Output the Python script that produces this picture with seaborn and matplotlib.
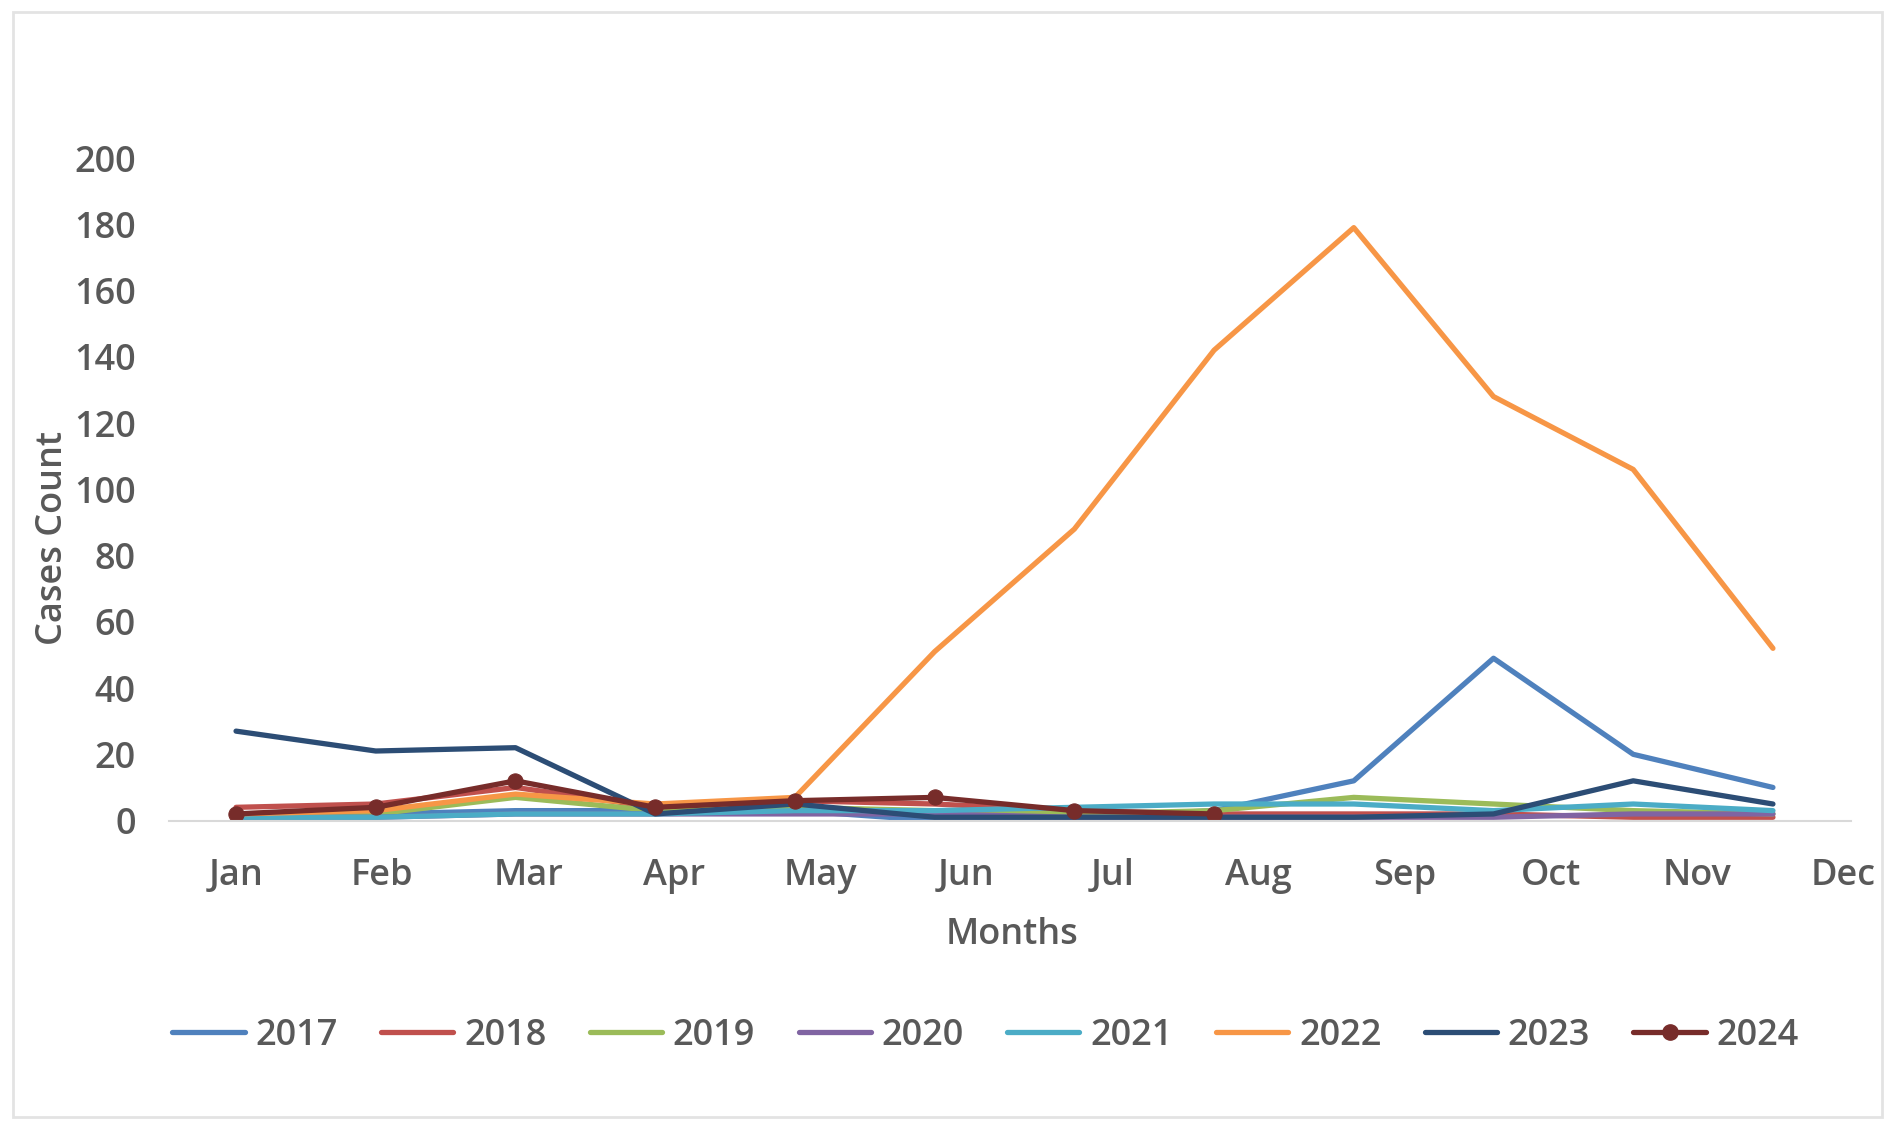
import numpy as np
import pandas as pd
import matplotlib
matplotlib.use("Agg")
import matplotlib.pyplot as plt
import seaborn as sns
from matplotlib.patches import Rectangle
from matplotlib.lines import Line2D

months = ["Jan", "Feb", "Mar", "Apr", "May", "Jun", "Jul", "Aug", "Sep", "Oct", "Nov", "Dec"]
years = ["2017", "2018", "2019", "2020", "2021", "2022", "2023", "2024"]
y2017 = [2, 2, 3, 3, 3, 0, 1, 3, 12, 49, 20, 10]
y2018 = [4, 5, 10, 4, 6, 5, 3, 2, 2, 2, 1, 1]
y2019 = [1, 2, 7, 3, 4, 3, 2, 3, 7, 5, 3, 2]
y2020 = [1, 1, 2, 2, 2, 2, 1, 1, 1, 1, 2, 2]
y2021 = [1, 1, 2, 2, 3, 3, 4, 5, 5, 3, 5, 3]
y2022 = [2, 3, 8, 5, 7, 51, 88, 142, 179, 128, 106, 52]
y2023 = [27, 21, 22, 2, 5, 1, 1, 1, 1, 2, 12, 5]
y2024 = [2, 4, 12, 4, 6, 7, 3, 2]
yticks = [0, 20, 40, 60, 80, 100, 120, 140, 160, 180, 200]

series = [y2017, y2018, y2019, y2020, y2021, y2022, y2023, y2024]
colors = ["#4F81BD", "#C0504D", "#9BBB59", "#8064A2", "#4BACC6", "#F79646", "#2C4D75", "#772C2A"]

rows = []
for yr, vals in zip(years, series):
    for i, v in enumerate(vals):
        rows.append({"Year": yr, "idx": i, "Cases": v})
df = pd.DataFrame(rows)

sns.set_theme(style="white")
plt.rcParams["font.family"] = ["Open Sans", "DejaVu Sans"]
txt = "#595959"
fs = 26
lw = 3.8

fig = plt.figure(figsize=(18.88, 11.21), dpi=100)
ax = fig.add_axes([0.0895, 0.268, 0.891, 0.591])

for yr, col in zip(years, colors):
    sub = df[df["Year"] == yr]
    if yr == "2024":
        sns.lineplot(data=sub, x="idx", y="Cases", color=col, lw=lw, ax=ax,
                     marker="o", markersize=11, markeredgecolor=col, legend=False)
    else:
        sns.lineplot(data=sub, x="idx", y="Cases", color=col, lw=lw, ax=ax, legend=False)

ax.set_ylim(0, 200)
ax.set_xlim(-0.48, 11.56)
ax.set_yticks(yticks)
ax.set_yticklabels([str(t) for t in yticks])
ax.set_xticks(np.arange(len(months)) * (11.5 / 11))
ax.set_xticklabels(months)
for s in ["top", "right", "left"]:
    ax.spines[s].set_visible(False)
ax.spines["bottom"].set_color("#D9D9D9")
ax.spines["bottom"].set_linewidth(1.5)
ax.tick_params(axis="both", length=0, labelsize=fs, labelcolor=txt)
ax.tick_params(axis="y", pad=24)
ax.tick_params(axis="x", pad=27)
for lab in ax.get_xticklabels() + ax.get_yticklabels():
    lab.set_fontweight("semibold")
ax.set_xlabel("")
ax.set_ylabel("")
ax.grid(False)

fig.text(0.536, 0.166, "Months", ha="center", va="center", fontsize=fs, color=txt, fontweight="semibold")
fig.text(0.028, 0.52, "Cases Count", ha="center", va="center", rotation=90, fontsize=fs, color=txt, fontweight="semibold")

handles = []
for yr, col in zip(years, colors):
    if yr == "2024":
        handles.append(Line2D([0], [0], color=col, lw=lw, marker="o", markersize=11))
    else:
        handles.append(Line2D([0], [0], color=col, lw=lw))
leg = fig.legend(handles, years, loc="center", bbox_to_anchor=(0.522, 0.076), ncol=8, frameon=False,
                 fontsize=fs, handlelength=2.0, columnspacing=1.2, handletextpad=0.3)
for t in leg.get_texts():
    t.set_color(txt)
    t.set_fontweight("semibold")

fig.add_artist(Rectangle((0.007, 0.004), 0.99, 0.985, transform=fig.transFigure, fill=False,
                         edgecolor="#E3E3E3", lw=2))

fig.savefig("out.png", dpi=100)
